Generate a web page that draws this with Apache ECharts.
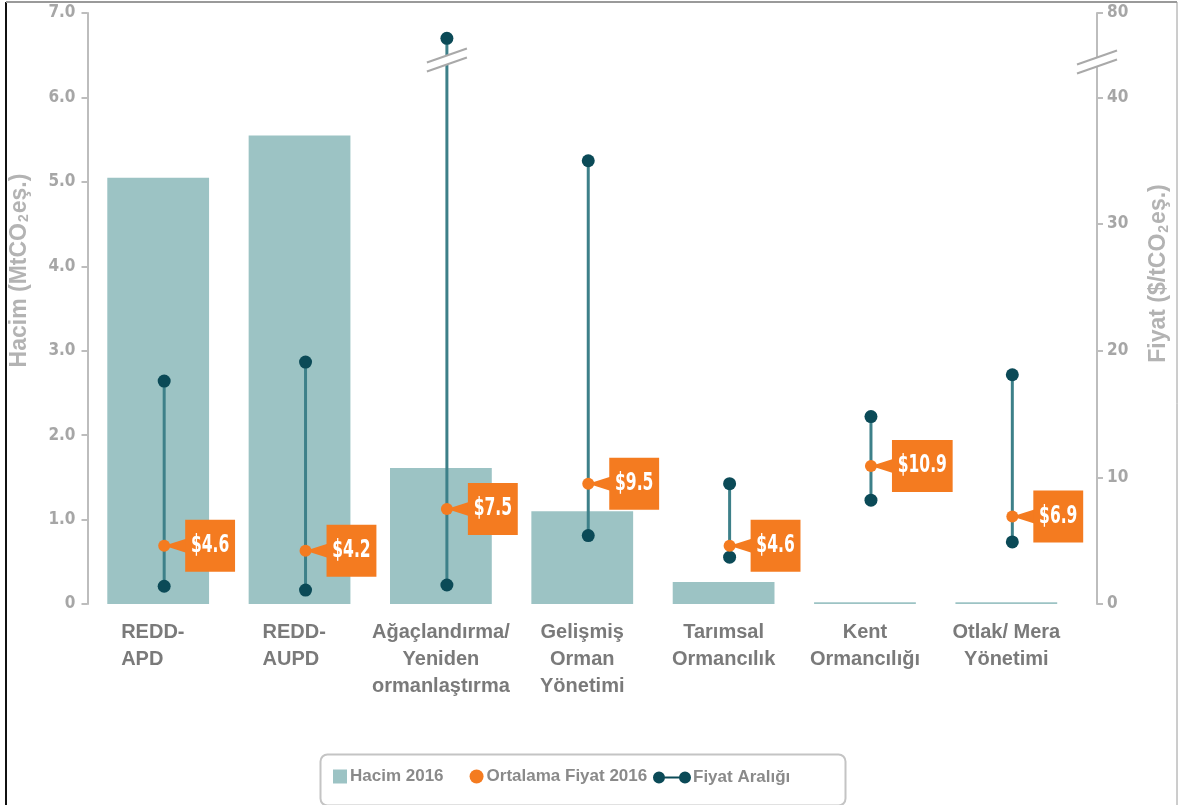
<!DOCTYPE html>
<html>
<head>
<meta charset="utf-8">
<script src="https://cdn.jsdelivr.net/npm/echarts@6/dist/echarts.min.js"></script>
<style>
  html, body { margin: 0; padding: 0; background: #fff; }
  #chart { width: 1179px; height: 805px; }
</style>
</head>
<body>
<div id="chart"></div>
<script>
// Categories (project types)
const categories = [
  'REDD-\nAPD',
  'REDD-\nAUPD',
  'Ağaçlandırma/\nYeniden\normanlaştırma',
  'Gelişmiş\nOrman\nYönetimi',
  'Tarımsal\nOrmancılık',
  'Kent\nOrmancılığı',
  'Otlak/ Mera\nYönetimi'
];
// Volume 2016 (MtCO2e)
const volume2016 = [5.05, 5.55, 1.61, 1.10, 0.26, 0.02, 0.02];
// Average price 2016 ($/tCO2e)
const avgPrice2016 = [4.6, 4.2, 7.5, 9.5, 4.6, 10.9, 6.9];
// Price range ($/tCO2e)
const priceLow = [1.4, 1.1, 1.5, 5.4, 3.7, 8.2, 4.9];
const priceHigh = [17.6, 19.1, 68, 35.0, 9.5, 14.8, 18.1];
// Axis tick labels
const volumeTicks = ['0', '1.0', '2.0', '3.0', '4.0', '5.0', '6.0', '7.0'];
const priceTicks = ['0', '10', '20', '30', '40', '80'];

// Price axis is broken above 40: the 40–80 span is squeezed into the top segment.
const BREAK_FROM = 40;
const BREAK_TO = 80;
const PRICE_TOP = 7 * 40 / 6;            // aligned with the 0–7 volume axis
const SQUEEZE = (PRICE_TOP - BREAK_FROM) / (BREAK_TO - BREAK_FROM);
const BREAK_MARK = 58;                    // where the "//" marks sit
function brokenScale(v) { return v <= BREAK_FROM ? v : BREAK_FROM + (v - BREAK_FROM) * SQUEEZE; }
function unbrokenScale(v) { return v <= BREAK_FROM + 1e-6 ? v : BREAK_FROM + (v - BREAK_FROM) / SQUEEZE; }

const BAR = '#9cc3c4';
const ORANGE = '#f47b20';
const DOT = '#0b4a57';
const STEM = '#3d8089';
const AXIS = '#bdbdbd';
const TICK_TXT = '#a6a6a6';
const NAME_TXT = '#b3b3b3';
const CAT_TXT = '#7a7a7a';
const STEM_SHIFT = 6;
const RIGHT_AXIS_OFFSET = 20;
const NARROW = '"Liberation Sans Narrow", "DejaVu Sans Condensed", "Roboto Condensed", sans-serif';
const SANS = '"Liberation Sans", Arial, sans-serif';

function breakMark(x, y) {
  return {
    type: 'group',
    children: [
      { type: 'polygon', shape: { points: [[x - 20, y + 3], [x + 20, y - 11], [x + 20, y - 2], [x - 20, y + 12]] },
        style: { fill: '#fff' } },
      { type: 'line', shape: { x1: x - 20, y1: y + 3, x2: x + 20, y2: y - 11 }, style: { stroke: '#a9a9a9', lineWidth: 2 } },
      { type: 'line', shape: { x1: x - 20, y1: y + 12, x2: x + 20, y2: y - 2 }, style: { stroke: '#a9a9a9', lineWidth: 2 } }
    ]
  };
}

function renderRange(params, api) {
  const i = api.value(0);
  const x = api.coord([i, 0])[0] + STEM_SHIFT;
  const yLow = api.coord([i, api.value(1)])[1];
  const yHigh = api.coord([i, api.value(2)])[1];
  const children = [
    { type: 'line', shape: { x1: x, y1: yLow, x2: x, y2: yHigh }, style: { stroke: STEM, lineWidth: 3 } }
  ];
  if (api.value(3) > BREAK_FROM) {
    const yb = api.coord([i, brokenScale(BREAK_MARK)])[1];
    children.push(breakMark(x, yb));
    const cs = params.coordSys;
    children.push(breakMark(cs.x + cs.width + RIGHT_AXIS_OFFSET, yb + 2));
  }
  children.push(
    { type: 'circle', shape: { cx: x, cy: yHigh, r: 6.5 }, style: { fill: DOT } },
    { type: 'circle', shape: { cx: x, cy: yLow, r: 6.5 }, style: { fill: DOT } }
  );
  return { type: 'group', children };
}

function renderAvg(params, api) {
  const i = api.value(0);
  const p = api.coord([i, api.value(1)]);
  const cx = p[0] + STEM_SHIFT, cy = p[1];
  const bx = cx + 21;
  return {
    type: 'group',
    children: [
      { type: 'polygon', shape: { points: [[cx, cy], [bx + 1, cy - 7], [bx + 1, cy + 7]] }, style: { fill: ORANGE } },
      { type: 'circle', shape: { cx, cy, r: 6 }, style: { fill: ORANGE } },
      { type: 'text', x: bx, y: cy, scaleX: 0.72, scaleY: 1,
        style: { text: '$' + api.value(2).toFixed(1), fill: '#fff', font: 'bold 24px ' + NARROW,
                 align: 'left', verticalAlign: 'middle', lineHeight: 30,
                 backgroundColor: ORANGE, padding: [11, 8, 11, 8] } }
    ]
  };
}

const rangeData = categories.map((c, i) => [i, brokenScale(priceLow[i]), brokenScale(priceHigh[i]), priceHigh[i]]);
const avgData = categories.map((c, i) => [i, brokenScale(avgPrice2016[i]), avgPrice2016[i]]);

const nameRich = {
  a: { fontSize: 23, fontWeight: 'bold', color: NAME_TXT, fontFamily: SANS },
  s: { fontSize: 14, fontWeight: 'bold', color: NAME_TXT, fontFamily: SANS, padding: [10, 1, 0, 1] }
};

const catRich = {
  l: { width: 74, align: 'left', fontSize: 20, fontWeight: 'bold', color: CAT_TXT, lineHeight: 27, fontFamily: SANS },
  c: { align: 'center', fontSize: 20, fontWeight: 'bold', color: CAT_TXT, lineHeight: 27, fontFamily: SANS }
};

const legendText = { fontSize: 17, fontWeight: 'bold', color: '#8a8a8a', fontFamily: SANS };

const chart = echarts.init(document.getElementById('chart'), null, { renderer: 'canvas' });
chart.setOption({
  animation: false,
  backgroundColor: '#fff',
  grid: { left: 87, right: 102, top: 13, bottom: 201 },
  legend: [
    {
      left: 333, top: 768, padding: 0, itemWidth: 14, itemHeight: 14, itemGap: 26,
      data: [{ name: 'Hacim 2016', icon: 'rect' }, { name: 'Ortalama Fiyat 2016', icon: 'circle' }],
      textStyle: Object.assign({ padding: [0, 0, 0, -2] }, legendText)
    },
    {
      left: 653, top: 769, padding: 0, itemWidth: 38, itemHeight: 12,
      data: [{ name: 'Fiyat Aralığı', icon: 'path://M0,6a6,6 0 1,1 12,0a6,6 0 1,1 -12,0zM11,5h16v2h-16zM26,6a6,6 0 1,1 12,0a6,6 0 1,1 -12,0z' }],
      textStyle: Object.assign({ padding: [0, 0, 0, -3] }, legendText)
    }
  ],
  xAxis: {
    type: 'category',
    data: categories,
    axisLine: { show: false },
    axisTick: { show: false },
    axisLabel: {
      interval: 0, margin: 15,
      formatter: (v, idx) => v.split('\n').map(s => '{' + (idx < 2 ? 'l' : 'c') + '|' + s + '}').join('\n'),
      rich: catRich
    }
  },
  yAxis: [
    {
      type: 'value', min: 0, max: 7, interval: 1,
      name: '{a|Hacim (MtCO}{s|2}{a|eş.)}', nameLocation: 'middle', nameGap: 56,
      nameTextStyle: { rich: nameRich, padding: [0, 0, 0, 76] },
      axisLine: { show: true, lineStyle: { color: AXIS, width: 2 } },
      axisTick: { show: true, length: 6, lineStyle: { color: AXIS, width: 2 } },
      splitLine: { show: false },
      axisLabel: { margin: 12, color: TICK_TXT, fontSize: 17, fontWeight: 'bold', fontFamily: NARROW,
                   formatter: v => volumeTicks[Math.round(v)] }
    },
    {
      type: 'value', min: 0, max: PRICE_TOP, interval: 10, offset: RIGHT_AXIS_OFFSET,
      name: '{a|Fiyat ($/tCO}{s|2}{a|eş.)}', nameLocation: 'middle', nameGap: 50, nameRotate: 90,
      nameTextStyle: { rich: nameRich, padding: [0, 0, 0, 70] },
      axisLine: { show: true, lineStyle: { color: AXIS, width: 2 } },
      axisTick: { show: true, length: 6, lineStyle: { color: AXIS, width: 2 } },
      splitLine: { show: false },
      axisLabel: { margin: 10, color: TICK_TXT, fontSize: 17, fontWeight: 'bold', fontFamily: NARROW,
                   showMaxLabel: true,
                   formatter: v => {
                     const raw = Math.round(unbrokenScale(v));
                     const idx = priceTicks.indexOf(String(raw));
                     return idx >= 0 ? priceTicks[idx] : '';
                   } }
    }
  ],
  series: [
    {
      name: 'Hacim 2016', type: 'bar', yAxisIndex: 0, barWidth: '72%',
      itemStyle: { color: BAR },
      data: volume2016
    },
    {
      name: 'Fiyat Aralığı', type: 'custom', yAxisIndex: 1,
      itemStyle: { color: DOT },
      renderItem: renderRange,
      encode: { x: 0, y: [1, 2] },
      data: rangeData, z: 3
    },
    {
      name: 'Ortalama Fiyat 2016', type: 'custom', yAxisIndex: 1,
      itemStyle: { color: ORANGE },
      renderItem: renderAvg,
      encode: { x: 0, y: 1 },
      data: avgData, z: 4
    }
  ],
  graphic: [
    // legend frame
    { type: 'rect', left: 318, top: 752, shape: { width: 525, height: 51, r: 7 },
      style: { fill: 'none', stroke: '#c4c4c4', lineWidth: 2 }, z: -1 },
    // outer frame
    { type: 'line', shape: { x1: 6, y1: 2, x2: 6, y2: 805 }, style: { stroke: '#111', lineWidth: 2 } },
    { type: 'line', shape: { x1: 6, y1: 2, x2: 1177, y2: 2 }, style: { stroke: '#9a9a9a', lineWidth: 2 } },
    { type: 'line', shape: { x1: 1177, y1: 2, x2: 1177, y2: 805 }, style: { stroke: '#9a9a9a', lineWidth: 1 } }
  ]
});
</script>
</body>
</html>
